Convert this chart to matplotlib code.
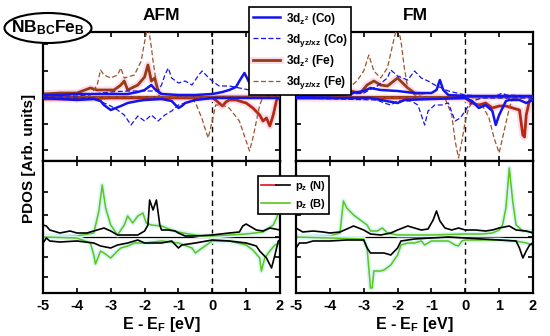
import matplotlib
matplotlib.use("Agg")
import matplotlib.pyplot as plt
import matplotlib.patheffects as pe
from matplotlib.patches import Ellipse
from matplotlib.lines import Line2D
from matplotlib.legend_handler import HandlerTuple

plt.rcParams['font.family'] = ['Liberation Sans', 'DejaVu Sans']
plt.rcParams['font.weight'] = 'bold'
plt.rcParams['mathtext.fontset'] = 'custom'
plt.rcParams['mathtext.rm'] = 'Liberation Sans:bold'
plt.rcParams['mathtext.it'] = 'Liberation Sans:bold'
plt.rcParams['mathtext.bf'] = 'Liberation Sans:bold'

# ---------------- data (E - E_F [eV], PDOS arb. units) ----------------
xticks = [-5, -4, -3, -2, -1, 0, 1, 2]
panel_titles = ["AFM", "FM"]

# AFM, transition-metal d states
afm_co_z2_up = [(-5,2),(-4.5,2),(-4,3),(-3.5,3),(-3,3),(-2.5,3),(-2.2,5),(-2,7),(-1.8,12),(-1.7,8),(-1.5,3),(-1,2),(-0.5,2),(0,3),(0.3,5),(0.5,7),(0.7,10),(0.8,16),(0.95,24),(1.1,14),(1.3,6),(1.5,4),(1.8,3),(2,3)]
afm_co_z2_dn = [(-5,-1),(-4.5,-2),(-4,-3),(-3.5,-2),(-3.3,-4),(-3.2,-8),(-3.0,-13),(-2.85,-11),(-2.7,-9),(-2.5,-6),(-2.2,-4),(-2,-3),(-1.5,-2),(-1.2,-4),(-1.0,-11),(-0.9,-9),(-0.8,-6),(-0.5,-3),(0,-1),(0.5,-1),(1,-1),(1.5,-1),(2,-1)]
afm_co_yz_up = [(-5,1),(-4,1),(-3.5,3),(-3,5),(-2.5,6),(-2,6),(-1.6,6),(-1.5,12),(-1.4,22),(-1.3,29),(-1.2,19),(-1.0,14),(-0.8,16),(-0.6,12),(-0.4,22),(-0.3,26),(-0.1,19),(0,16),(0.2,11),(0.5,11),(0.8,9),(1.1,7),(1.3,3),(1.6,2),(2,2)]
afm_co_yz_dn = [(-5,-1),(-4,-1),(-3.5,-1),(-3.2,-6),(-3.0,-9),(-2.8,-13),(-2.6,-18),(-2.4,-28),(-2.2,-19),(-2.0,-24),(-1.8,-18),(-1.6,-24),(-1.4,-18),(-1.2,-14),(-1.0,-8),(-0.8,-6),(-0.5,-3),(0,-1),(1,-1),(2,-1)]
afm_fe_z2_up = [(-5,3),(-4.5,4),(-4,4),(-3.6,9),(-3.4,7),(-3.2,7),(-2.9,7),(-2.7,12),(-2.6,16),(-2.5,7),(-2.2,12),(-2.0,20),(-1.9,32),(-1.8,16),(-1.7,19),(-1.6,6),(-1.5,2),(-1,0),(0,0),(2,0)]
afm_fe_z2_dn = [(-5,-2),(-4,-2),(-3,-1),(-2,-1),(-1,-1),(0,-1),(0.1,-3),(0.3,-9),(0.4,-5),(0.5,-3),(0.7,-3),(1.0,-6),(1.2,-11),(1.4,-18),(1.5,-24),(1.6,-21),(1.7,-29),(1.8,-18),(1.9,-3),(2,0)]
afm_fe_yz_up = [(-5,0),(-4,0),(-3.6,2),(-3.4,12),(-3.3,27),(-3.2,22),(-3.0,19),(-2.8,22),(-2.7,29),(-2.6,19),(-2.3,22),(-2.1,36),(-2.0,55),(-1.9,72),(-1.8,50),(-1.75,36),(-1.6,2),(-1.5,0),(2,0)]
afm_fe_yz_dn = [(-5,0),(-0.6,0),(-0.47,-8),(-0.3,-22),(-0.22,-31),(-0.12,-41),(-0.03,-28),(0.1,-8),(0.3,-8),(0.5,-11),(0.8,-24),(1.0,-44),(1.1,-54),(1.2,-41),(1.4,-8),(1.5,0),(2,0)]

# FM, transition-metal d states
fm_co_z2_up = [(-5,1),(-4,2),(-3.5,3),(-3,6),(-2.8,9),(-2.5,7),(-2,6),(-1.5,4),(-1,4),(-0.85,7),(-0.75,17),(-0.65,7),(-0.5,2),(0,1),(0.5,1),(1,1),(2,1)]
fm_co_z2_dn = [(-5,-1),(-3,-1),(-2.8,-1),(-2.5,-3),(-2.0,-6),(-1.8,-3),(-1,-2),(0,-1),(0.2,-4),(0.4,-11),(0.6,-8),(0.8,-14),(0.9,-28),(1.0,-18),(1.2,-4),(1.3,-3),(1.6,-3),(1.8,-6),(2,-3)]
fm_co_yz_up = [(-5,1),(-4,1),(-3,4),(-2.6,11),(-2.3,19),(-2.2,27),(-2.0,21),(-1.7,17),(-1.5,26),(-1.3,19),(-1.1,16),(-0.9,12),(-0.7,9),(-0.5,6),(0,2),(0.5,1),(0.9,1),(1.1,4),(1.2,2),(2,1)]
fm_co_yz_dn = [(-5,-1),(-2.6,-3),(-2.4,-6),(-2.2,-8),(-2.0,-4),(-1.6,-4),(-1.4,-8),(-1.3,-18),(-1.2,-28),(-1.1,-14),(-0.9,-8),(-0.7,-8),(-0.5,-6),(-0.3,-24),(-0.15,-21),(0,-14),(0.1,-8),(0.3,-3),(0.5,-1),(2,-1)]
fm_fe_z2_up = [(-5,2),(-4,3),(-3.7,11),(-3.6,7),(-3.4,6),(-3.1,4),(-2.9,12),(-2.7,16),(-2.5,12),(-2.3,11),(-2.0,19),(-1.85,14),(-1.7,9),(-1.5,4),(-1.2,1),(-1,0),(2,0)]
fm_fe_z2_dn = [(-5,-1),(0,-1),(0.2,-6),(0.4,-8),(0.6,-6),(0.8,-11),(1.0,-9),(1.2,-9),(1.4,-11),(1.6,-13),(1.7,-38),(1.75,-40),(1.8,-18),(1.9,-3),(2,-1)]
fm_fe_yz_up = [(-5,0),(-4,1),(-3.8,4),(-3.5,7),(-3.2,16),(-3.0,26),(-2.85,42),(-2.7,26),(-2.5,19),(-2.3,29),(-2.1,59),(-2.0,72),(-1.9,56),(-1.8,29),(-1.7,9),(-1.5,2),(-1.2,0),(2,0)]
fm_fe_yz_dn = [(-5,0),(-0.6,-1),(-0.4,-18),(-0.3,-44),(-0.2,-61),(-0.1,-44),(0,-24),(0.1,-11),(0.2,-6),(0.5,-8),(0.7,-21),(0.85,-41),(1.0,-56),(1.1,-41),(1.3,-11),(1.4,-1),(2,0)]

# AFM, p_z states
afm_n_up = [(-5,12),(-4.9,11),(-4.8,7),(-4.5,4),(-4.2,6),(-4,4),(-3.7,4),(-3.5,6),(-3.2,9),(-3,6),(-2.8,2),(-2.5,2),(-2.2,2),(-2,6),(-1.9,12),(-1.85,37),(-1.75,27),(-1.65,37),(-1.55,12),(-1.5,7),(-1.3,7),(-1.1,6),(-1,4),(-0.8,1),(-0.5,1),(0,2),(0.5,4),(0.8,5),(0.9,11),(1.0,13),(1.1,11),(1.3,7),(1.5,6),(1.7,9),(2,7)]
afm_n_dn = [(-5,-6),(-4.9,-1),(-4.8,-4),(-4.5,-5),(-4,-4),(-3.5,-6),(-3.3,-9),(-3,-11),(-2.8,-8),(-2.5,-6),(-2.2,-3),(-2,-6),(-1.5,-6),(-1.2,-4),(-1,-11),(-0.9,-8),(-0.5,-6),(0,-3),(0.5,-4),(1,-6),(1.3,-9),(1.4,-14),(1.6,-21),(1.75,-31),(1.85,-18),(1.95,-4),(2,-3)]
afm_b_up = [(-5,1),(-4,1),(-3.5,4),(-3.35,26),(-3.25,52),(-3.15,29),(-3,12),(-2.8,2),(-2.6,12),(-2.5,21),(-2.35,14),(-2.2,21),(-2.05,24),(-1.95,14),(-1.8,12),(-1.5,11),(-1.2,7),(-1,5),(-0.7,3),(-0.3,1),(0,1),(0.5,2),(1,3),(1.5,5),(1.8,12),(1.9,19),(2,32)]
afm_b_dn = [(-5,0),(-4,-1),(-3.6,-6),(-3.5,-18),(-3.45,-27),(-3.3,-14),(-3.2,-16),(-3,-21),(-2.8,-14),(-2.7,-11),(-2.5,-9),(-2.3,-6),(-2,-6),(-1.5,-4),(-1,-6),(-0.6,-11),(-0.5,-16),(-0.3,-11),(0,-4),(0.5,-4),(1,-8),(1.2,-13),(1.4,-21),(1.45,-34),(1.55,-21),(1.7,-14),(1.85,-8),(2,-6)]

# FM, p_z states
fm_n_up = [(-5,9),(-4.8,5),(-4.5,6),(-4.2,5),(-4,4),(-3.7,5),(-3.5,8),(-3.3,11),(-3,7),(-2.8,3),(-2.5,2),(-2.2,4),(-2,7),(-1.7,11),(-1.5,9),(-1.3,7),(-1.1,8),(-0.95,17),(-0.85,26),(-0.75,16),(-0.6,9),(-0.4,7),(-0.2,9),(0,7),(0.3,7),(0.6,6),(0.8,7),(1,9),(1.3,11),(1.5,7),(1.8,6),(2,4)]
fm_n_dn = [(-5,-11),(-4.9,-6),(-4.7,-6),(-4.5,-4),(-4,-4),(-3.5,-3),(-3,-3),(-2.9,-11),(-2.8,-16),(-2.6,-16),(-2.4,-16),(-2.2,-18),(-2,-11),(-1.9,-4),(-1.5,-2),(-1,-1),(-0.5,0),(0,-1),(0.5,-2),(1,-3),(1.5,-4),(1.6,-11),(1.7,-21),(1.8,-14),(1.9,-8),(2,-6)]
fm_b_up = [(-5,1),(-4,1),(-3.7,4),(-3.6,36),(-3.5,29),(-3.3,22),(-3.1,17),(-2.9,12),(-2.8,6),(-2.6,6),(-2.45,9),(-2.3,4),(-2,2),(-1.5,2),(-1,2),(0,3),(0.5,3),(0.8,4),(1,7),(1.1,12),(1.2,29),(1.3,69),(1.4,36),(1.5,12),(1.7,6),(2,5)]
fm_b_dn = [(-5,0),(-4,-1),(-3,-2),(-2.9,-11),(-2.85,-31),(-2.8,-51),(-2.75,-51),(-2.7,-34),(-2.5,-34),(-2.4,-33),(-2.2,-28),(-2,-18),(-1.9,-8),(-1.7,-6),(-1.5,-6),(-1.3,-4),(-1.2,-8),(-1,-4),(-0.5,-4),(-0.3,-8),(-0.2,-9),(-0.1,-4),(0,-3),(0.5,-3),(1,-3),(1.5,-4),(1.8,-6),(2,-8)]

top_labels = ["3d$_{z^2}$ (Co)", "3d$_{yz/xz}$ (Co)", "3d$_{z^2}$ (Fe)", "3d$_{yz/xz}$ (Fe)"]
bot_labels = ["p$_{z}$ (N)", "p$_{z}$ (B)"]

# ---------------- styling ----------------
BLUE = '#1414f0'
BROWN = '#983a14'
FE_DN = '#b22a14'
DASH_BROWN = '#a0522d'
GREEN = '#5cc41a'
PINK_HALO = [pe.Stroke(linewidth=5, foreground='#fbdce8'), pe.Normal()]
CYAN_HALO = [pe.Stroke(linewidth=3.5, foreground='#d8f6f6'), pe.Normal()]


def xy(pairs):
    e, v = zip(*pairs)
    return list(e), list(v)


W, H = 550, 336
fig = plt.figure(figsize=(W / 100, H / 100), dpi=100)


def fax(x0, y0, x1, y1):
    return fig.add_axes([x0 / W, 1 - y1 / H, (x1 - x0) / W, (y1 - y0) / H])


ax_tl = fax(43, 32, 280, 161)
ax_tr = fax(296, 32, 533, 161)
ax_bl = fax(43, 161, 280, 293)
ax_br = fax(296, 161, 533, 293)

top_sets = [
    (ax_tl, afm_co_z2_up, afm_co_z2_dn, afm_co_yz_up, afm_co_yz_dn, afm_fe_z2_up, afm_fe_z2_dn, afm_fe_yz_up, afm_fe_yz_dn),
    (ax_tr, fm_co_z2_up, fm_co_z2_dn, fm_co_yz_up, fm_co_yz_dn, fm_fe_z2_up, fm_fe_z2_dn, fm_fe_yz_up, fm_fe_yz_dn),
]
handles_top = None
for ax, cz_u, cz_d, cy_u, cy_d, fz_u, fz_d, fy_u, fy_d in top_sets:
    h3 = ax.plot(*xy(fz_u), color=BROWN, lw=2.0, path_effects=PINK_HALO, zorder=2)[0]
    ax.plot(*xy(fz_d), color=FE_DN, lw=2.0, path_effects=PINK_HALO, zorder=2)
    h4 = ax.plot(*xy(fy_u), color=DASH_BROWN, lw=0.9, ls=(0, (4, 2)), zorder=3)[0]
    ax.plot(*xy(fy_d), color=DASH_BROWN, lw=0.9, ls=(0, (4, 2)), zorder=3)
    h2 = ax.plot(*xy(cy_u), color=BLUE, lw=0.9, ls=(0, (4, 2)), zorder=3)[0]
    ax.plot(*xy(cy_d), color=BLUE, lw=0.9, ls=(0, (4, 2)), zorder=3)
    h1 = ax.plot(*xy(cz_u), color=BLUE, lw=1.8, zorder=4)[0]
    ax.plot(*xy(cz_d), color=BLUE, lw=1.8, zorder=4)
    ax.axhline(0, color=BROWN, lw=1.6, zorder=2.5)
    ax.set_ylim(-64, 65)
    ax.set_yticks([-53, -26.5, 0, 26.5, 53])
    handles_top = [h1, h2, h3, h4]

bot_sets = [
    (ax_bl, afm_n_up, afm_n_dn, afm_b_up, afm_b_dn),
    (ax_br, fm_n_up, fm_n_dn, fm_b_up, fm_b_dn),
]
for ax, n_u, n_d, b_u, b_d in bot_sets:
    ax.axhline(0, color='black', lw=0.9, zorder=1)
    ax.plot(*xy(b_u), color=GREEN, lw=1.1, path_effects=CYAN_HALO, zorder=2)
    ax.plot(*xy(b_d), color=GREEN, lw=1.1, path_effects=CYAN_HALO, zorder=2)
    ax.plot(*xy(n_u), color='black', lw=1.2, zorder=3)
    ax.plot(*xy(n_d), color='black', lw=1.2, zorder=3)
    ax.set_ylim(-56, 76)
    ax.set_yticks([-40, -20, 0, 22, 45])

for ax in (ax_tl, ax_tr, ax_bl, ax_br):
    ax.set_xlim(-5, 2)
    ax.set_xticks(xticks)
    ax.axvline(0, color='black', lw=1.0, ls=(0, (4, 3)), zorder=1)
    ax.tick_params(direction='in', top=True, right=True, length=3.5, width=1.2,
                   labelsize=10.5, pad=4)
    ax.set_yticklabels([])
    for s in ax.spines.values():
        s.set_linewidth(1.6)
    for lab in ax.get_xticklabels():
        lab.set_fontweight('bold')

for ax in (ax_tl, ax_tr):
    ax.set_xticklabels([])

for ax in (ax_bl, ax_br):
    ax.set_xticklabels([str(t) for t in xticks])
    ax.set_xlabel("E - E$_{F}$ [eV]", fontsize=11.5, fontweight='bold', labelpad=2)

# titles and labels
fig.text(161 / W, 1 - 16 / H, panel_titles[0], ha='center', va='center', fontsize=12.5, fontweight='bold')
fig.text(415 / W, 1 - 16 / H, panel_titles[1], ha='center', va='center', fontsize=12.5, fontweight='bold')
fig.text(29 / W, 1 - 158 / H, "PDOS [Arb. units]", rotation=90, ha='center', va='center',
         fontsize=11, fontweight='bold')

# ellipse label
fig.add_artist(Ellipse((48 / W, 1 - 28 / H), 87 / W, 30 / H, transform=fig.transFigure,
                       facecolor='white', edgecolor='black', lw=1.5, zorder=10))
fig.text(48 / W, 1 - 28 / H, "NB$_{BC}$Fe$_{B}$", ha='center', va='center', fontsize=12.5,
         fontweight='bold', zorder=11)

# legends
leg1 = fig.legend(handles_top, top_labels, loc='upper left',
                  bbox_to_anchor=(249 / W, 1 - 7 / H), bbox_transform=fig.transFigure,
                  borderaxespad=0, frameon=True, fancybox=False,
                  edgecolor='black', framealpha=1, handlelength=2.3, handletextpad=0.5,
                  labelspacing=0.42, borderpad=0.3,
                  prop={'weight': 'bold', 'size': 8.5})
leg1.get_frame().set_linewidth(1.2)
leg1.set_zorder(20)

n_red = Line2D([], [], color='#e01020', lw=1.2)
n_blk = Line2D([], [], color='black', lw=1.2)
b_grn = Line2D([], [], color=GREEN, lw=1.2)
leg2 = fig.legend([(n_red, n_blk), b_grn], bot_labels, loc='upper left',
                  bbox_to_anchor=(258 / W, 1 - 176 / H), bbox_transform=fig.transFigure,
                  borderaxespad=0, frameon=True, fancybox=False, edgecolor='black',
                  framealpha=1, handlelength=2.6, handletextpad=0.4, labelspacing=0.3,
                  borderpad=0.3, prop={'weight': 'bold', 'size': 8},
                  handler_map={tuple: HandlerTuple(ndivide=2, pad=0)})
leg2.get_frame().set_linewidth(1.2)
leg2.set_zorder(20)

fig.savefig("out.png", dpi=100)
